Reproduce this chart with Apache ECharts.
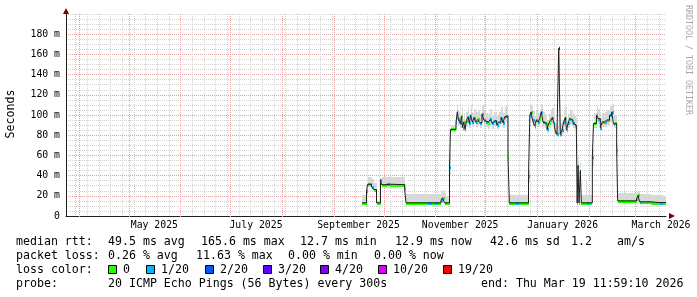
<!DOCTYPE html>
<html>
<head>
<meta charset="utf-8">
<script src="https://cdn.jsdelivr.net/npm/echarts@6/dist/echarts.min.js"></script>
<style>
html,body{margin:0;padding:0;background:#ffffff;}
#chart{width:697px;height:297px;}
</style>
</head>
<body>
<div id="chart"></div>
<script>
// ---------------- data ----------------
// graph window: 360 days ending Thu Mar 19 11:59:10 2026
const windowEnd = Date.UTC(2026, 2, 19, 11, 59, 10);
const windowDays = 360;

// x-axis month labels (each centred on its month)
const monthLabels = ['May 2025', 'July 2025', 'September 2025', 'November 2025', 'January 2026', 'March 2026'];
const monthLabelYear = [2025, 2025, 2025, 2025, 2026, 2026];
const monthLabelMonth = [4, 6, 8, 10, 0, 2];

// y-axis tick labels (ms)
const yTickValues = [0, 20, 40, 60, 80, 100, 120, 140, 160, 180];
const yTickLabels = ['0', '20 m', '40 m', '60 m', '80 m', '100 m', '120 m', '140 m', '160 m', '180 m'];

// loss colour legend
const lossLabels = ['0', '1/20', '2/20', '3/20', '4/20', '10/20', '19/20'];
const lossColors = ['#26ff00', '#00b8ff', '#0059ff', '#5e00ff', '#7e00ff', '#dd00ff', '#ff0000'];

// measurement runs: start of each run in days after the window start
const runStartDay = [
  177.6, 180.3, 180.9, 183.3, 184.5, 186.3, 188.7, 189.3, 192.6, 194.4, 203.1, 204.0, 217.2, 219.6, 221.4, 223.2, 225.0, 225.9, 227.1, 228.0, 230.1, 230.7,
  234.0, 234.8, 235.4, 236.6, 237.3, 237.9, 238.6, 239.4, 240.2, 241.2, 242.0, 242.7, 243.8, 244.8, 245.8, 247.0, 248.2, 249.6, 250.8, 252.0, 253.4, 254.6, 255.8, 257.0, 258.4, 259.6, 261.0, 262.2, 263.2, 264.2, 265.2,
  266.0, 269.7, 271.5,
  277.5, 278.3, 279.0, 279.9, 281.1, 282.2, 283.2, 284.2, 285.2, 286.2, 287.2, 288.6, 289.6, 290.7, 291.8, 292.8, 293.6, 294.6, 295.6, 296.6, 297.6, 298.6, 299.6, 300.3, 301.2, 302.2, 303.2, 304.2, 305.2, 306.2,
  306.7, 307.2, 307.8, 308.6, 309.2, 312.2, 312.6, 313.8,
  315.8, 316.5, 318.3, 319.2, 320.6, 321.8, 323.1, 324.3, 326.1, 327.4, 328.5, 329.6, 330.4,
  331.0, 342.3, 343.2, 344.1, 345.0, 351.0, 356.4, 358.2
];
// median RTT (ms)
const medianMs = [
  13.0, 24.5, 31.4, 29.0, 26.2, 13.0, 36.0, 31.0, 31.5, 31.0, 28.2, 13.0, 13.0, 13.0, 13.0, 13.0, 15.6, 18.0, 13.0, 13.0, 49.0, 85.7,
  93, 103, 95.6, 91.6, 98.9, 87.6, 93, 85.7, 94.2, 98.2, 91.6, 99.8, 93, 97.5, 93, 95.6, 92.3, 100.8, 94.9, 93, 91.6, 95.6, 91.6, 94.2, 90, 93, 97.5, 92.3, 98.2, 98.9, 58.5,
  13, 13, 13,
  39.4, 99.8, 103, 94.9, 89, 95, 93, 96.5, 103, 93, 91.6, 85.7, 91.6, 95, 97.5, 91.6, 83.3, 81, 166, 81, 85, 93, 97.5, 85, 91.6, 96.5, 95, 91.6, 90, 88,
  13, 50, 13, 45, 13, 13, 13, 13,
  58.5, 91.6, 99.8, 96.5, 87.6, 93, 93, 95, 99.8, 103, 91, 91.6, 65,
  14.9, 17, 20.5, 14, 14, 13.3, 13.3, 13.3
];
// smoke: lowest and highest ping of each run (ms)
const smokeLoMs = [
  12, 21, 29, 27, 24, 12, 31, 30, 30, 30, 25, 12, 12, 12, 12, 12, 13, 13, 12, 12, 40, 83,
  88, 95, 90, 87, 92, 84, 88, 83, 88, 92, 87, 93, 88, 91, 88, 90, 87, 94, 89, 88, 86, 90, 86, 89, 86, 88, 91, 87, 92, 93, 52,
  12, 12, 12,
  33, 93, 96, 90, 85, 90, 88, 91, 96, 88, 87, 82, 87, 90, 91, 87, 80, 78, 80, 78, 81, 88, 91, 82, 87, 91, 90, 87, 86, 84,
  12, 42, 12, 38, 12, 12, 12, 12,
  50, 87, 93, 91, 84, 88, 88, 90, 93, 96, 87, 87, 58,
  13.5, 14, 15, 13, 13, 12, 12, 12
];
const smokeHiMs = [
  20.5, 30, 38.5, 37, 33, 15, 38, 38.7, 38.7, 38.7, 32, 22, 22, 22, 22, 22, 25, 25.5, 23, 20, 62, 90,
  101, 110, 104, 101, 107, 96, 102, 95, 103, 108, 101, 110, 102, 106, 103, 105, 101, 110, 104, 102, 101, 106, 100, 103, 99, 103, 108, 102, 108, 109, 64,
  20.5, 20.5, 20.5,
  46, 108, 110, 104, 99, 104, 102, 106, 111, 103, 101, 95, 101, 105, 107, 101, 92, 90, 168, 92, 95, 104, 108, 95, 101, 106, 105, 101, 99, 97,
  20, 58, 20, 52, 20.5, 35, 20.5, 20.5,
  65, 102, 109, 106, 97, 102, 103, 105, 109, 111, 101, 100, 72,
  22.5, 24, 25, 22, 22, 21, 21, 20
];
// packet-loss level of each run (index into lossLabels)
const lossLevel = [
  0, 1, 0, 1, 0, 0, 0, 0, 1, 0, 0, 0, 1, 0, 1, 0, 1, 0, 1, 0, 1, 0,
  1, 0, 1, 1, 0, 1, 0, 1, 0, 1, 1, 0, 1, 1, 1, 0, 1, 1, 1, 1, 0, 1, 1, 1, 1, 0, 1, 1, 1, 1, 0,
  0, 1, 0,
  1, 1, 0, 1, 1, 1, 1, 0, 1, 1, 0, 1, 0, 1, 0, 1, 0, 1, 3, 1, 1, 1, 0, 0, 1, 1, 0, 1, 1, 1,
  0, 1, 0, 1, 0, 0, 1, 0,
  1, 0, 1, 1, 1, 0, 1, 0, 1, 1, 1, 0, 0,
  0, 0, 0, 1, 0, 0, 1, 0
];

// ---------------- build ----------------
const DAY = 864e5;
const windowStart = windowEnd - windowDays * DAY;
const Y_MAX = 200;
const MONO = "'DejaVu Sans Mono', monospace";

const runStart = runStartDay.map(d => windowStart + d * DAY);
const runEnd = runStart.slice(1).concat([windowEnd]);
const runs = runStart.map((t, i) => [t, runEnd[i], medianMs[i], smokeLoMs[i], smokeHiMs[i], lossLevel[i]]);
const medianLine = runs.map(r => [r[0], r[2]]).concat([[windowEnd, medianMs[medianMs.length - 1]]]);

// grid positions (calendar): month starts and Sundays
const monthStarts = [];
for (let k = 0; k < 13; k++) {
  const t = Date.UTC(2025, 3 + k, 1);
  if (t > windowStart && t < windowEnd) monthStarts.push([t, 0]);
}
const sundays = [];
for (let t = Date.UTC(2025, 2, 30); t < windowEnd; t += 7 * DAY) sundays.push([t, 0]);

const labelValues = monthLabels.map((_, i) => {
  const a = Date.UTC(monthLabelYear[i], monthLabelMonth[i], 1);
  const b = Date.UTC(monthLabelYear[i], monthLabelMonth[i] + 1, 1);
  return (a + b) / 2;
});
function monthFormatter(v) {
  const i = labelValues.findIndex(x => Math.abs(x - v) < DAY);
  return i >= 0 ? monthLabels[i] : '';
}

function vGrid(color, below) {
  return function (params, api) {
    const top = api.coord([api.value(0), Y_MAX]);
    const bot = api.coord([api.value(0), 0]);
    const x = Math.round(top[0]) + 0.5;
    return {
      type: 'line', silent: true,
      shape: { x1: x, y1: Math.round(top[1]), x2: x, y2: Math.round(bot[1]) + below },
      style: { stroke: color, lineWidth: 1, lineDash: [1, 1] }
    };
  };
}

const MAJOR = '#e3a3a3';
const MINOR = '#d2d2d2';
const ySplitColors = yTickValues.map(() => MAJOR).concat([MINOR]);

const option = {
  animation: false,
  grid: { left: 66, top: 14, width: 600, height: 202, containLabel: false },
  xAxis: [
    {
      type: 'value', min: windowStart, max: windowEnd, position: 'bottom',
      axisLine: { show: true, onZero: false, lineStyle: { color: '#1e1e1e', width: 1 } },
      axisTick: { show: false },
      splitLine: { show: false },
      axisLabel: {
        show: true, customValues: labelValues, formatter: monthFormatter,
        margin: 4, color: '#000', fontFamily: MONO, fontSize: 9.8, hideOverlap: false
      }
    },
    {
      type: 'value', min: windowStart, max: windowEnd, position: 'bottom',
      axisLine: {
        show: true, onZero: false, symbol: ['none', 'triangle'], symbolSize: [6, 6], symbolOffset: [0, 6],
        lineStyle: { color: '#7f0000', width: 0 }
      },
      axisTick: { show: false }, axisLabel: { show: false }, splitLine: { show: false }
    }
  ],
  yAxis: [
    {
      type: 'value', min: 0, max: Y_MAX, interval: 20, position: 'left',
      axisLine: { show: true, lineStyle: { color: '#1e1e1e', width: 1 } },
      axisTick: { show: false },
      axisLabel: {
        formatter: v => { const i = yTickValues.indexOf(v); return i >= 0 ? yTickLabels[i] : ''; },
        showMaxLabel: false, margin: 6, color: '#000', fontFamily: MONO, fontSize: 9.8
      },
      splitLine: { show: true, lineStyle: { color: ySplitColors, type: [1, 1], width: 1 } },
      minorTick: { show: false, splitNumber: 4 },
      minorSplitLine: { show: true, lineStyle: { color: MINOR, type: [1, 1], width: 1 } }
    },
    {
      type: 'value', min: 0, max: Y_MAX, position: 'left',
      axisLine: {
        show: true, symbol: ['none', 'triangle'], symbolSize: [6, 6], symbolOffset: [0, 3],
        lineStyle: { color: '#7f0000', width: 0 }
      },
      axisTick: { show: false }, axisLabel: { show: false }, splitLine: { show: false }
    }
  ],
  series: [
    {
      type: 'custom', name: 'weekGrid', z: 1, silent: true,
      data: sundays, encode: { x: 0, y: 1 }, renderItem: vGrid(MINOR, 0)
    },
    {
      type: 'custom', name: 'monthGrid', z: 1, silent: true,
      data: monthStarts, encode: { x: 0, y: 1 }, renderItem: vGrid(MAJOR, 2)
    },
    {
      type: 'custom', name: 'smoke', z: 2, silent: true,
      data: runs, encode: { x: [0, 1], y: [3, 4] },
      renderItem: function (params, api) {
        const p0 = api.coord([api.value(0), api.value(4)]);
        const p1 = api.coord([api.value(1), api.value(3)]);
        const x0 = Math.round(p0[0]), x1 = Math.round(p1[0]);
        const y0 = Math.round(p0[1]), y1 = Math.round(p1[1]);
        return { type: 'rect', shape: { x: x0, y: y0, width: Math.max(1, x1 - x0), height: Math.max(1, y1 - y0) }, style: { fill: '#d8d8d8' } };
      }
    },
    {
      type: 'custom', name: 'lossColour', z: 3, silent: true,
      data: runs, encode: { x: [0, 1], y: 2 },
      renderItem: function (params, api) {
        const p0 = api.coord([api.value(0), api.value(2)]);
        const p1 = api.coord([api.value(1), api.value(2)]);
        const x0 = Math.round(p0[0]), x1 = Math.round(p1[0]);
        const y = Math.round(p0[1]);
        return { type: 'rect', shape: { x: x0, y: y - 1, width: Math.max(1, x1 - x0), height: 3 }, style: { fill: lossColors[api.value(5)] } };
      }
    },
    {
      type: 'line', name: 'median', z: 4, silent: true,
      data: medianLine, step: 'end', showSymbol: false, symbol: 'none',
      lineStyle: { color: '#202020', width: 1 }
    }
  ],
  graphic: []
};

// ---- text (legend, axis title, watermark) ----
const G = option.graphic;
function txt(s, x, y, extra) {
  G.push(Object.assign({
    type: 'text', x: x, y: y, silent: true,
    style: { text: s, font: '11.6px ' + MONO, fill: '#000', align: 'left', verticalAlign: 'middle', textAlign: 'left', textVerticalAlign: 'middle' }
  }, extra || {}));
}
// axis title
G.push({ type: 'text', x: 10.5, y: 114, rotation: Math.PI / 2, silent: true,
  style: { text: 'Seconds', font: '11.6px ' + MONO, fill: '#000', align: 'center', verticalAlign: 'middle', textAlign: 'center', textVerticalAlign: 'middle' } });
// watermark
G.push({ type: 'text', x: 688, y: 60, rotation: -Math.PI / 2, silent: true,
  style: { text: 'RRDTOOL / TOBI OETIKER', font: '8.3px ' + MONO, fill: '#a8a8a8', align: 'center', verticalAlign: 'middle', textAlign: 'center', textVerticalAlign: 'middle' } });

const L1 = 241.5, L2 = 255.5, L3 = 269.5, L4 = 283.5;
txt('median rtt:', 16, L1);
txt('49.5 ms avg', 108, L1);
txt('165.6 ms max', 201, L1);
txt('12.7 ms min', 300, L1);
txt('12.9 ms now', 395, L1);
txt('42.6 ms sd', 490, L1);
txt('1.2', 571, L1);
txt('am/s', 617, L1);

txt('packet loss:', 16, L2);
txt('0.26 % avg', 108, L2);
txt('11.63 % max', 196, L2);
txt('0.00 % min', 288, L2);
txt('0.00 % now', 374, L2);

txt('loss color:', 16, L3);
const boxX = [108, 146, 205, 263, 320, 378, 443];
lossLabels.forEach((lab, i) => {
  G.push({ type: 'rect', silent: true, shape: { x: boxX[i] + 0.5, y: 265.5, width: 8, height: 8 },
    style: { fill: lossColors[i], stroke: '#000', lineWidth: 1 } });
  txt(lab, boxX[i] + 15, L3);
});

txt('probe:', 16, L4);
txt('20 ICMP Echo Pings (56 Bytes) every 300s', 108, L4);
txt('end: Thu Mar 19 11:59:10 2026', 481, L4);

const chart = echarts.init(document.getElementById('chart'), null, { renderer: 'canvas' });
chart.setOption(option);
</script>
</body>
</html>
